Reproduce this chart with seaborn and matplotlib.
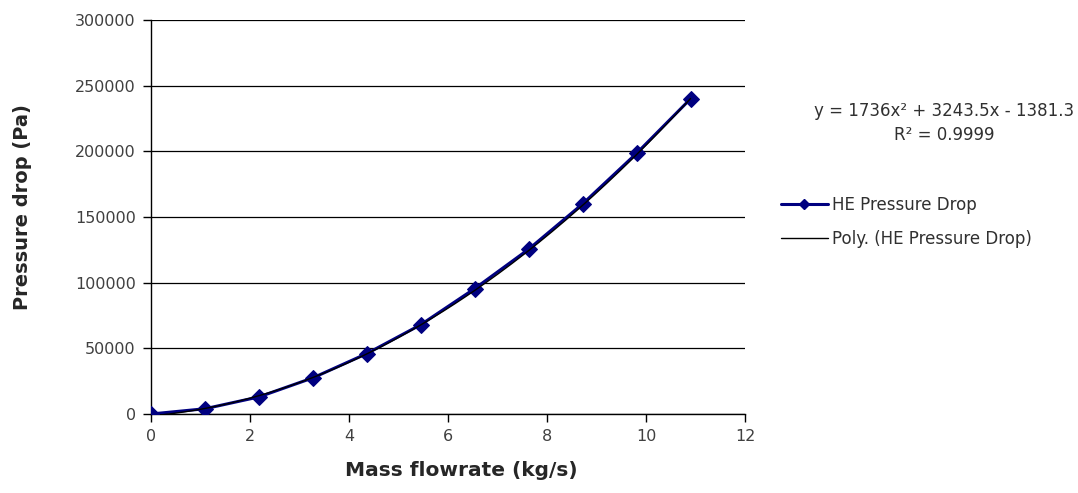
import numpy as np
import pandas as pd
import matplotlib
matplotlib.use("Agg")
import matplotlib.pyplot as plt
import seaborn as sns
from matplotlib.lines import Line2D

# Data
mass_flow = [0.0, 1.09, 2.18, 3.27, 4.36, 5.45, 6.54, 7.63, 8.72, 9.81, 10.9]
pressure_drop = [0, 4000, 13000, 27500, 46000, 68000, 95500, 125500, 160000, 198500, 240000]
poly_coeffs = [1736, 3243.5, -1381.3]  # from trendline label
y_ticks = [0, 50000, 100000, 150000, 200000, 250000, 300000]
x_ticks = [0, 2, 4, 6, 8, 10, 12]

sns.set_theme(style="white")
plt.rcParams['font.family'] = ['DejaVu Sans']

fig = plt.figure(figsize=(10.78, 4.93), dpi=100)
ax = fig.add_axes([151/1078, 1 - 414/493, (745 - 151)/1078, (414 - 20)/493])

df = pd.DataFrame({"x": mass_flow, "y": pressure_drop})
xs = np.linspace(min(mass_flow), max(mass_flow), 200)
trend = pd.DataFrame({"x": xs, "y": np.polyval(poly_coeffs, xs)})

sns.lineplot(data=df, x="x", y="y", ax=ax, color="#000080", lw=2.2,
             marker="D", markersize=8.5, markeredgecolor="#000080", zorder=3)
sns.lineplot(data=trend, x="x", y="y", ax=ax, color="black", lw=1.0, zorder=4)

ax.set_xlim(0, 12)
ax.set_ylim(0, 300000)
ax.set_xticks(x_ticks)
ax.set_yticks(y_ticks)
ax.set_xticklabels([str(t) for t in x_ticks], fontsize=11.5, color="#404040")
ax.set_yticklabels([str(t) for t in y_ticks], fontsize=11.5, color="#404040")
ax.grid(axis="y", color="black", lw=0.9)
ax.set_axisbelow(True)
for s in ["top", "right"]:
    ax.spines[s].set_visible(False)
ax.spines["left"].set_color("black")
ax.spines["bottom"].set_color("black")
ax.spines["left"].set_linewidth(1.0)
ax.spines["bottom"].set_linewidth(1.0)
ax.tick_params(axis="both", direction="out", length=6, width=1, color="black",
               left=True, bottom=True, pad=5)

ax.set_xlabel("Mass flowrate (kg/s)", fontsize=14.5, fontweight="bold")
ax.set_ylabel("Pressure drop (Pa)", fontsize=14, fontweight="bold")
ax.xaxis.set_label_coords((461 - 151) / 594, (414 - 470) / 394)
ax.yaxis.set_label_coords((22 - 151) / 594, (414 - 207) / 394)
ax.xaxis.label.set_va("center")
ax.yaxis.label.set_va("center")

fig.text(944/1078, 1 - 123/493, "y = 1736x² + 3243.5x - 1381.3\nR² = 0.9999",
         ha="center", va="center", fontsize=12, color="#303030", linespacing=1.4)

handles = [
    Line2D([], [], color="#000080", lw=2.2, marker="D", markersize=5),
    Line2D([], [], color="black", lw=1.0),
]
fig.legend(handles, ["HE Pressure Drop", "Poly. (HE Pressure Drop)"],
           loc="center left", bbox_to_anchor=(766/1078, 1 - 222/493),
           frameon=False, fontsize=12, handlelength=2.8, handletextpad=0.25,
           labelspacing=0.95, labelcolor="#303030")

fig.savefig("out.png", dpi=100)
